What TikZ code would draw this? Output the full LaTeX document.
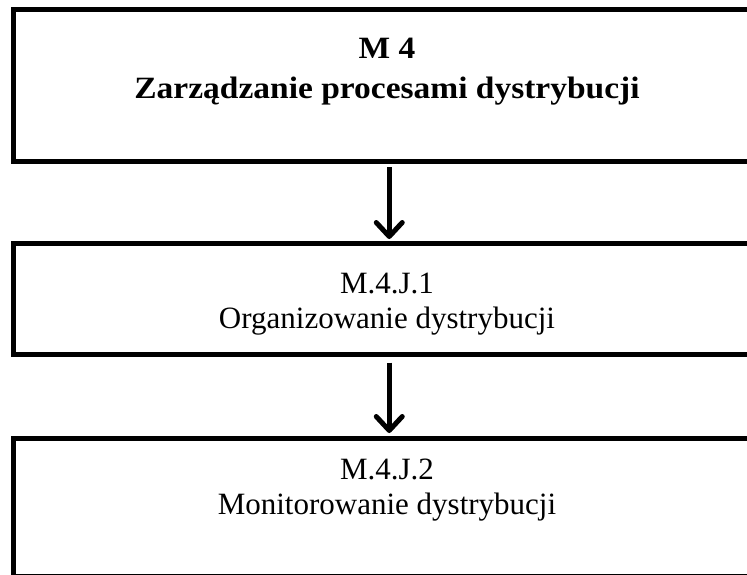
\documentclass[tikz,border=0pt]{standalone}
\usepackage{fontspec}
\setmainfont{Liberation Serif}
\newfontfamily\widefont[FakeStretch=1.08]{Liberation Serif}
\usetikzlibrary{arrows.meta}
\tikzset{
  box/.style={draw=black, line width=5pt, rectangle, minimum width=751.5pt, inner sep=0pt},
  conn/.style={line width=5pt, -{Straight Barb[length=14pt, width=26pt, round]}},
  boldtext/.style={align=center, font=\fontsize{31}{40}\widefont\bfseries},
  plaintext/.style={align=center, font=\fontsize{31}{35}\selectfont},
}
\begin{document}
\begin{tikzpicture}[x=1pt, y=-1pt]
\useasboundingbox (0,0) rectangle (747,574);
\fill[white] (0,0) rectangle (747,574);
\clip (0,0) rectangle (747,574);
\node[box, minimum height=152pt] (b1) at (389.25,85.5) {};
\node[box, minimum height=110.5pt] (b2) at (389.25,298.75) {};
\node[box, minimum height=137.5pt] (b3) at (389.25,507.25) {};
\node[boldtext] (t1) at (387,72) {M 4\\Zarządzanie procesami dystrybucji};
\node[plaintext] (t2) at (387,304) {M.4.J.1\\Organizowanie dystrybucji};
\node[plaintext] (t3) at (387,490) {M.4.J.2\\Monitorowanie dystrybucji};
\draw[conn, shorten <=3pt, shorten >=2pt] (b1.south) -- (b2.north);
\draw[conn, shorten <=6pt, shorten >=3pt] (b2.south) -- (b3.north);
\end{tikzpicture}
\end{document}
